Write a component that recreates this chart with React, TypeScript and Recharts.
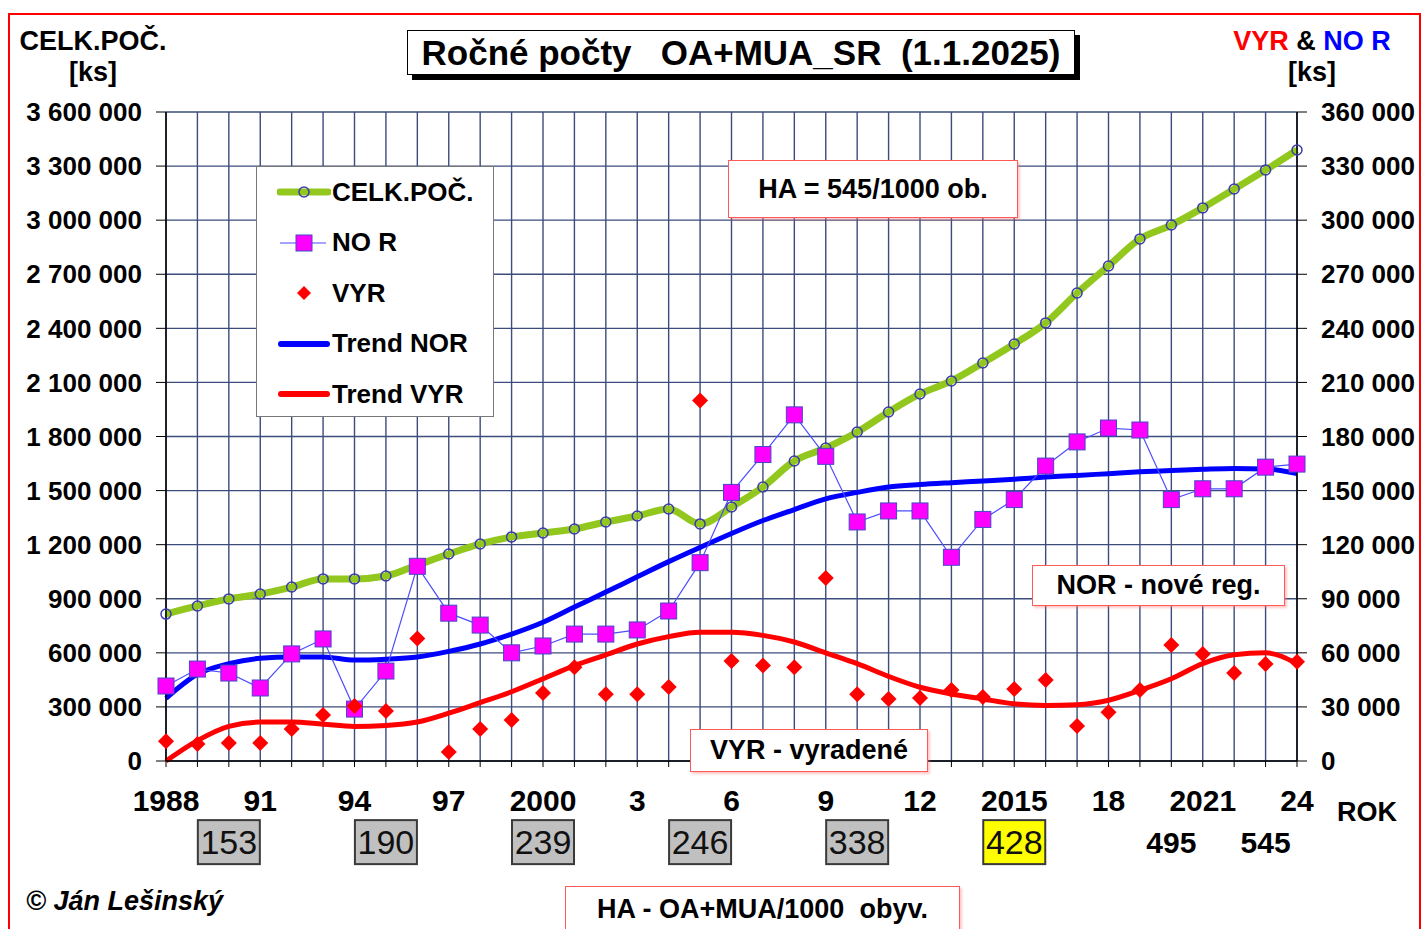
import React from "react";
import {
  CartesianGrid,
  ComposedChart,
  Line,
  ReferenceDot,
  XAxis,
  YAxis,
} from "recharts";

const years = [
  1988, 1989, 1990, 1991, 1992, 1993, 1994, 1995, 1996, 1997, 1998, 1999,
  2000, 2001, 2002, 2003, 2004, 2005, 2006, 2007, 2008, 2009, 2010, 2011,
  2012, 2013, 2014, 2015, 2016, 2017, 2018, 2019, 2020, 2021, 2022, 2023,
  2024,
];

// celkovy pocet (lava os)
const celkPoc = [
  815000, 860000, 899000, 926000, 965000, 1010000, 1010000, 1026000, 1087000,
  1148000, 1204000, 1243000, 1265000, 1287000, 1326000, 1359000, 1398000,
  1315000, 1409000, 1520000, 1664000, 1736000, 1825000, 1936000, 2036000,
  2108000, 2208000, 2313000, 2430000, 2596000, 2746000, 2896000, 2973000,
  3068000, 3173000, 3278000, 3389000,
];

// nove registracie (prava os)
const noveReg = [
  41600, 51000, 48800, 40500, 59400, 67700, 28800, 49900, 108000, 82000, 75400,
  60000, 63800, 70400, 70400, 72700, 83200, 110000, 149000, 170000, 192000,
  169000, 132600, 138700, 138700, 113000, 134000, 145000, 163600, 177000,
  184700, 183600, 145000, 151000, 151000, 163000, 164700,
];

// vyradene (prava os)
const vyradene = [
  11000, 9400, 10000, 10000, 17800, 25500, 30500, 27700, 68000, 5000, 17800,
  22700, 37700, 52000, 37000, 37000, 41000, 200000, 55500, 53000, 52000,
  101500, 37000, 34400, 35000, 39400, 35500, 40000, 45000, 19400, 27000, 39400,
  64300, 59400, 48800, 53800, 55000,
];

const trendNor = [
  34800, 48100, 54000, 57000, 57700, 57700, 56000, 56500, 57700, 60800, 64900,
  70400, 77000, 85400, 93700, 102200, 110600, 118500, 126200, 133400, 139500,
  145400, 149000, 152000, 153400, 154400, 155300, 156300, 157500, 158400,
  159400, 160400, 161100, 161800, 162300, 162000, 159400,
];

const trendVyr = [
  0, 11300, 19200, 21600, 21600, 20400, 19200, 19700, 21600, 26500, 32400,
  38400, 45600, 52900, 58900, 64900, 69000, 71400, 71400, 69700, 66000, 60000,
  54000, 46900, 40900, 37200, 34400, 31700, 30800, 31200, 33700, 39200, 45600,
  54000, 58900, 60000, 54000,
];

const tickYears = [
  1988, 1991, 1994, 1997, 2000, 2003, 2006, 2009, 2012, 2015, 2018, 2021, 2024,
];
const tickLabels = [
  "1988", "91", "94", "97", "2000", "3", "6", "9", "12", "2015", "18", "2021",
  "24",
];

const leftTicks = [
  0, 300000, 600000, 900000, 1200000, 1500000, 1800000, 2100000, 2400000,
  2700000, 3000000, 3300000, 3600000,
];
const leftMinor = [
  150000, 450000, 750000, 1050000, 1350000, 1650000, 1950000, 2250000,
  2550000, 2850000, 3150000, 3450000,
];
const rightTicks = [
  0, 30000, 60000, 90000, 120000, 150000, 180000, 210000, 240000, 270000,
  300000, 330000, 360000,
];
const rightMinor = [
  15000, 45000, 75000, 105000, 135000, 165000, 195000, 225000, 255000, 285000,
  315000, 345000,
];

// HA - OA+MUA / 1000 obyv.
const haYears = [1990, 1995, 2000, 2005, 2010, 2015, 2020, 2023];
const haValues = [153, 190, 239, 246, 338, 428, 495, 545];

const data = years.map((year, i) => ({
  year,
  celk: celkPoc[i],
  nor: noveReg[i],
  vyr: vyradene[i],
  tNor: trendNor[i],
  tVyr: trendVyr[i],
}));

const FONT = "'Liberation Sans', Arial, Helvetica, sans-serif";
const fmt = (v: number) => String(v).replace(/\B(?=(\d{3})+(?!\d))/g, " ");
const yearLabel = (v: number) => {
  const i = tickYears.indexOf(v);
  return i >= 0 ? tickLabels[i] : "";
};
const noLabel = () => "";

const CelkDot = (p: any) => {
  if (p.cx == null || p.cy == null) return <g key={`c${p.index}`} />;
  return (
    <circle
      key={`c${p.index}`}
      cx={p.cx}
      cy={p.cy}
      r={5}
      fill="none"
      stroke="#3c3caa"
      strokeWidth={1.5}
    />
  );
};

const NorDot = (p: any) => {
  if (p.cx == null || p.cy == null) return <g key={`n${p.index}`} />;
  return (
    <rect
      key={`n${p.index}`}
      x={p.cx - 8}
      y={p.cy - 8}
      width={16}
      height={16}
      fill="#ff00ff"
      stroke="#4646c8"
      strokeWidth={1}
    />
  );
};

const VyrDot = (p: any) => {
  if (p.cx == null || p.cy == null) return <g key={`v${p.index}`} />;
  const { cx, cy } = p;
  return (
    <polygon
      key={`v${p.index}`}
      points={`${cx},${cy - 8} ${cx + 8},${cy} ${cx},${cy + 8} ${cx - 8},${cy}`}
      fill="#ff0000"
    />
  );
};

const haShape = (i: number) => (p: any) => {
  const { cx, cy } = p;
  const v = haValues[i];
  if (i >= 6) {
    return (
      <text
        x={cx}
        y={cy + 11}
        textAnchor="middle"
        fontFamily={FONT}
        fontWeight="bold"
        fontSize={30}
        fill="#000"
      >
        {v}
      </text>
    );
  }
  return (
    <g>
      <rect
        x={cx - 31}
        y={cy - 22}
        width={62}
        height={44}
        fill={i === 5 ? "#ffff00" : "#c0c0c0"}
        stroke="#3a3a3a"
        strokeWidth={2}
      />
      <text
        x={cx}
        y={cy + 12}
        textAnchor="middle"
        fontFamily={FONT}
        fontSize={34}
        fill="#111"
      >
        {v}
      </text>
    </g>
  );
};

const boxStyle: React.CSSProperties = {
  position: "absolute",
  background: "#fff",
  border: "1.5px solid #ff5a5a",
  boxShadow: "2px 2px 2px rgba(255,120,120,0.4)",
  fontFamily: FONT,
  fontWeight: "bold",
  fontSize: 27,
  color: "#000",
  display: "flex",
  alignItems: "center",
  justifyContent: "center",
  boxSizing: "border-box",
  whiteSpace: "pre",
};

const legendItems = [
  { name: "CELK.POČ.", kind: "celk" },
  { name: "NO R", kind: "nor" },
  { name: "VYR", kind: "vyr" },
  { name: "Trend NOR", kind: "tnor" },
  { name: "Trend VYR", kind: "tvyr" },
];

const LegendSample = ({ kind }: { kind: string }) => (
  <svg width={54} height={20} style={{ display: "block" }}>
    {kind === "celk" && (
      <>
        <line x1={3} y1={10} x2={51} y2={10} stroke="#92c81e" strokeWidth={7} strokeLinecap="round" />
        <circle cx={27} cy={10} r={5} fill="none" stroke="#3c3caa" strokeWidth={1.5} />
      </>
    )}
    {kind === "nor" && (
      <>
        <line x1={3} y1={10} x2={49} y2={10} stroke="#4d4dff" strokeWidth={1.2} />
        <rect x={19} y={2} width={16} height={16} fill="#ff00ff" stroke="#4646c8" />
      </>
    )}
    {kind === "vyr" && (
      <polygon points="27,3 34,10 27,17 20,10" fill="#ff0000" />
    )}
    {kind === "tnor" && (
      <line x1={4} y1={10} x2={50} y2={10} stroke="#0000ff" strokeWidth={6} strokeLinecap="round" />
    )}
    {kind === "tvyr" && (
      <line x1={4} y1={10} x2={50} y2={10} stroke="#ff0000" strokeWidth={6} strokeLinecap="round" />
    )}
  </svg>
);

const axisTick = { fontFamily: FONT, fontWeight: "bold", fontSize: 26, fill: "#000" };

export default function App() {
  return (
    <div
      style={{
        position: "absolute",
        left: 0,
        top: 0,
        width: 1424,
        height: 929,
        background: "#fff",
        overflow: "hidden",
        fontFamily: FONT,
      }}
    >
      <div
        style={{
          position: "absolute",
          left: 8,
          top: 13,
          width: 1413,
          height: 930,
          border: "2px solid #ff0000",
          boxSizing: "border-box",
        }}
      />
      <ComposedChart
        width={1424}
        height={929}
        data={data}
        margin={{ top: 112, right: 0, bottom: 108, left: 0 }}
        style={{ position: "absolute", left: 0, top: 0 }}
      >
        <CartesianGrid yAxisId="left" stroke="#3c4c7c" strokeWidth={1.4} />
        <XAxis
          dataKey="year"
          type="number"
          domain={[1988, 2024]}
          ticks={years}
          interval={0}
          tickFormatter={yearLabel}
          tickSize={6}
          tickMargin={23}
          axisLine={{ stroke: "#000", strokeWidth: 1.5 }}
          tickLine={{ stroke: "#000" }}
          height={60}
          tick={{ ...axisTick, fontSize: 30 }}
        />
        <YAxis
          yAxisId="left"
          domain={[0, 3600000]}
          ticks={leftTicks}
          interval={0}
          tickFormatter={fmt}
          width={166}
          tickSize={10}
          tickMargin={14}
          axisLine={{ stroke: "#000", strokeWidth: 1.5 }}
          tickLine={{ stroke: "#000" }}
          tick={axisTick}
        />
        <YAxis
          yAxisId="leftMinor"
          domain={[0, 3600000]}
          ticks={leftMinor}
          interval={0}
          tickFormatter={noLabel}
          mirror
          width={0}
          tickSize={6}
          axisLine={false}
          tickLine={{ stroke: "#000" }}
        />
        <YAxis
          yAxisId="right"
          orientation="right"
          domain={[0, 360000]}
          ticks={rightTicks}
          interval={0}
          tickFormatter={fmt}
          width={127}
          tickSize={10}
          tickMargin={14}
          axisLine={{ stroke: "#000", strokeWidth: 1.5 }}
          tickLine={{ stroke: "#000" }}
          tick={{ ...axisTick, textAnchor: "start" }}
        />
        <YAxis
          yAxisId="rightMinor"
          orientation="right"
          domain={[0, 360000]}
          ticks={rightMinor}
          interval={0}
          tickFormatter={noLabel}
          mirror
          width={0}
          tickSize={6}
          axisLine={false}
          tickLine={{ stroke: "#000" }}
        />
        <Line
          yAxisId="right"
          dataKey="tVyr"
          type="monotone"
          stroke="#ff0000"
          strokeWidth={5}
          dot={false}
          isAnimationActive={false}
        />
        <Line
          yAxisId="right"
          dataKey="tNor"
          type="monotone"
          stroke="#0000ff"
          strokeWidth={5}
          dot={false}
          isAnimationActive={false}
        />
        <Line
          yAxisId="left"
          dataKey="celk"
          type="monotone"
          stroke="#92c81e"
          strokeWidth={7}
          dot={CelkDot}
          isAnimationActive={false}
        />
        <Line
          yAxisId="right"
          dataKey="nor"
          type="linear"
          stroke="#4d4dff"
          strokeWidth={1.2}
          dot={NorDot}
          isAnimationActive={false}
        />
        <Line
          yAxisId="right"
          dataKey="vyr"
          stroke="none"
          strokeWidth={0}
          dot={VyrDot}
          isAnimationActive={false}
        />
        {haYears.map((yr, i) => (
          <ReferenceDot
            key={yr}
            yAxisId="left"
            x={yr}
            y={-450000}
            ifOverflow="visible"
            shape={haShape(i)}
          />
        ))}
      </ComposedChart>

      {/* titulok */}
      <div
        style={{
          position: "absolute",
          left: 407,
          top: 30,
          width: 668,
          height: 45,
          background: "#fff",
          border: "1.5px solid #000",
          boxShadow: "5px 5px 0 #000",
          boxSizing: "border-box",
          display: "flex",
          alignItems: "center",
          justifyContent: "center",
          fontWeight: "bold",
          fontSize: 35,
          whiteSpace: "pre",
        }}
      >
        {"Ročné počty   OA+MUA_SR  (1.1.2025)"}
      </div>

      <div style={{ position: "absolute", left: 3, top: 26, width: 180, textAlign: "center", fontWeight: "bold", fontSize: 27, lineHeight: "31px" }}>
        CELK.POČ.
        <br />
        [ks]
      </div>
      <div style={{ position: "absolute", left: 1217, top: 26, width: 190, textAlign: "center", fontWeight: "bold", fontSize: 27, lineHeight: "31px" }}>
        <span style={{ color: "#ff0000" }}>VYR</span> &amp; <span style={{ color: "#0000ff" }}>NO R</span>
        <br />
        [ks]
      </div>

      <div style={{ position: "absolute", left: 1337, top: 797, fontWeight: "bold", fontSize: 27 }}>ROK</div>

      {/* legenda */}
      <div
        style={{
          position: "absolute",
          left: 256,
          top: 166,
          width: 238,
          height: 251,
          background: "#fff",
          border: "1px solid #777",
          boxSizing: "border-box",
          paddingTop: 0,
        }}
      >
        {legendItems.map((it) => (
          <div key={it.name} style={{ display: "flex", alignItems: "center", height: 50.5, paddingLeft: 20 }}>
            <LegendSample kind={it.kind} />
            <span style={{ fontWeight: "bold", fontSize: 26, marginLeft: 1 }}>{it.name}</span>
          </div>
        ))}
      </div>

      <div style={{ ...boxStyle, left: 728, top: 160, width: 290, height: 58 }}>
        HA = 545/1000 ob.
      </div>
      <div style={{ ...boxStyle, left: 1032, top: 565, width: 253, height: 41 }}>
        NOR - nové reg.
      </div>
      <div style={{ ...boxStyle, left: 690, top: 729, width: 238, height: 43 }}>
        VYR - vyradené
      </div>
      <div style={{ ...boxStyle, left: 565, top: 886, width: 395, height: 46 }}>
        {"HA - OA+MUA/1000  obyv."}
      </div>

      <div style={{ position: "absolute", left: 26, top: 886, fontWeight: "bold", fontStyle: "italic", fontSize: 27 }}>
        © Ján Lešinský
      </div>
    </div>
  );
}
